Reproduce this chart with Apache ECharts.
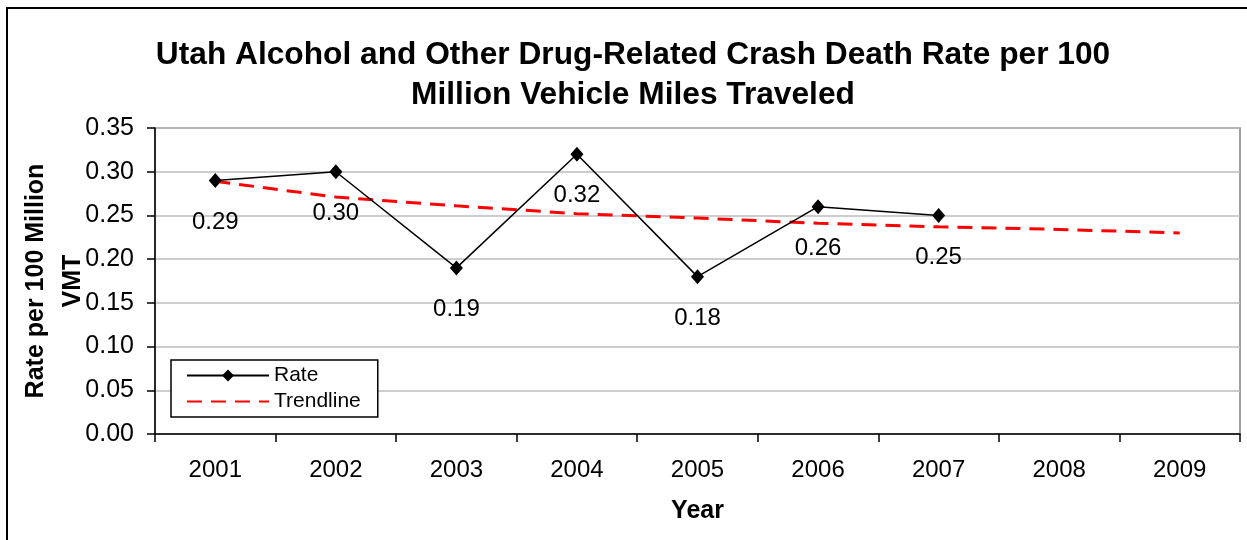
<!DOCTYPE html>
<html>
<head>
<meta charset="utf-8">
<script src="https://cdn.jsdelivr.net/npm/echarts@6/dist/echarts.min.js"></script>
<style>
  html, body { margin: 0; padding: 0; background: #ffffff; }
  #chart { width: 1247px; height: 540px; }
</style>
</head>
<body>
<div id="chart"></div>
<script>
// Years on the category axis
const years = ['2001', '2002', '2003', '2004', '2005', '2006', '2007', '2008', '2009'];
// Crash death rate per 100 million VMT (no data yet for 2008-2009)
const rate = [0.29, 0.30, 0.19, 0.32, 0.18, 0.26, 0.25, null, null];
// Fitted trendline values, extended through 2009
const trend = [0.289, 0.271, 0.261, 0.252, 0.247, 0.241, 0.237, 0.234, 0.230];
// Y-axis range and step
const yMin = 0, yMax = 0.35, yStep = 0.05;

const FONT = 'Liberation Sans, Arial, Helvetica, sans-serif';

const chart = echarts.init(document.getElementById('chart'), null, { renderer: 'canvas' });

chart.setOption({
  backgroundColor: '#ffffff',
  animation: false,
  title: {
    text: 'Utah Alcohol and Other Drug-Related Crash Death Rate per 100\nMillion Vehicle Miles Traveled',
    left: 628,
    top: 30,
    textAlign: 'center',
    textStyle: {
      fontFamily: FONT,
      fontSize: 31.7,
      fontWeight: 'bold',
      color: '#000000',
      lineHeight: 40
    }
  },
  grid: {
    left: 155,
    right: 7,
    top: 128,
    bottom: 106,
    outerBoundsMode: 'none',
    containLabel: false,
    show: true,
    borderColor: '#808080',
    borderWidth: 1.5,
    backgroundColor: 'transparent'
  },
  legend: {
    orient: 'vertical',
    left: 171,
    top: 360,
    padding: [5, 17, 5, 15],
    itemGap: 5,
    itemWidth: 82,
    itemHeight: 15,
    backgroundColor: '#ffffff',
    borderColor: '#000000',
    borderWidth: 1.5,
    borderRadius: 0,
    textStyle: { fontFamily: FONT, fontSize: 21, color: '#000000' },
    data: [
      { name: 'Rate' },
      { name: 'Trendline', itemStyle: { opacity: 0 } }
    ]
  },
  xAxis: {
    type: 'category',
    data: years,
    boundaryGap: true,
    name: 'Year',
    nameLocation: 'middle',
    nameGap: 65,
    nameMoveOverlap: false,
    nameTextStyle: { fontFamily: FONT, fontSize: 25, fontWeight: 'bold', color: '#000000' },
    axisLine: { lineStyle: { color: '#000000', width: 1.5 } },
    axisTick: { show: true, interval: 0, length: 8, lineStyle: { color: '#000000', width: 1.5 } },
    axisLabel: { fontFamily: FONT, fontSize: 24, color: '#000000', margin: 24 },
    splitLine: { show: false }
  },
  yAxis: {
    type: 'value',
    min: yMin,
    max: yMax,
    interval: yStep,
    name: 'Rate per 100 Million\nVMT',
    nameLocation: 'middle',
    nameGap: 63,
    nameRotate: 90,
    nameMoveOverlap: false,
    nameTextStyle: { fontFamily: FONT, fontSize: 25, fontWeight: 'bold', color: '#000000', lineHeight: 37 },
    axisLine: { show: true, lineStyle: { color: '#000000', width: 1.5 } },
    axisTick: { show: true, length: 8, lineStyle: { color: '#000000', width: 1.5 } },
    axisLabel: {
      fontFamily: FONT, fontSize: 25, color: '#000000', margin: 21,
      formatter: v => v.toFixed(2)
    },
    splitLine: { show: true, lineStyle: { color: '#bdbdbd', width: 1.5 } }
  },
  series: [
    {
      name: 'Trendline',
      type: 'line',
      data: trend,
      symbol: 'none',
      z: 2,
      lineStyle: { color: '#ff0000', width: 3, type: [15, 9] },
      itemStyle: { color: '#ff0000' }
    },
    {
      name: 'Rate',
      type: 'line',
      data: rate,
      z: 3,
      symbol: 'diamond',
      symbolSize: [13, 15],
      lineStyle: { color: '#000000', width: 1.5 },
      itemStyle: { color: '#000000' },
      label: {
        show: true,
        position: 'bottom',
        distance: 22,
        fontFamily: FONT,
        fontSize: 24,
        color: '#000000',
        formatter: p => p.value.toFixed(2)
      }
    }
  ],
  graphic: [
    {
      type: 'rect',
      z: -10,
      shape: { x: 7, y: 8, width: 1300, height: 600 },
      style: { fill: 'none', stroke: '#000000', lineWidth: 2 }
    }
  ]
});
</script>
</body>
</html>
